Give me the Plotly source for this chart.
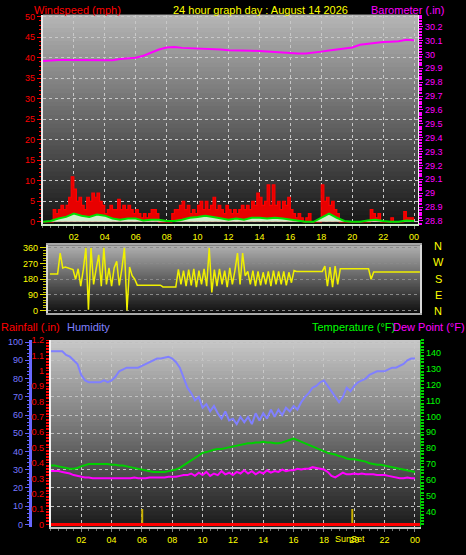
import plotly.graph_objects as go

W, H = 466, 555
def px(x): return x / W
def py(y): return 1 - y / H

FONT = "Arial, Liberation Sans, sans-serif"

# ---------------- data ----------------
# wind gust (mph), every 10 minutes from 00:00 to 24:00
gust = [0, 0, 0, 0, 3, 2,
        3, 4, 3, 4, 6, 11,
        8, 5, 6, 4, 3, 6,
        5, 7, 6, 7, 5, 4,
        2, 3, 4, 3, 3, 5.5,
        3, 4, 3, 4, 3, 2,
        3, 2, 1, 2, 1, 2,
        3, 3, 2, 0, 0, 0,
        0, 0, 2, 3, 3, 4,
        5, 3, 4, 2, 3, 2,
        4, 5, 3, 5, 3, 4,
        6, 3, 4, 3, 2, 4,
        3, 2, 3, 2, 3, 4,
        3, 4, 3, 5, 4, 7,
        6, 4, 5, 9, 4, 9,
        4, 5, 3, 5, 4, 6,
        3, 2, 1, 2, 1, 0,
        1, 2, 0, 0, 0, 0,
        9, 5, 6, 4, 5, 3,
        2, 0, 0, 0, 0, 0,
        0, 0, 0, 0, 0, 0,
        0, 3, 2, 1, 2, 0,
        0, 0, 0, 1, 0, 0,
        0, 0, 2.5, 1, 1, 1,
        1]
# average wind speed (mph), every 30 minutes
wind_avg = [0, 0.2, 0.8, 1.2, 2.0, 1.5, 1.2, 1.8, 1.5, 0.8,
            0.5, 0.8, 0.8, 0.3, 0.5, 0.5, 0.2, 0.2, 0.5, 1.0,
            1.2, 1.5, 1.2, 0.8, 0.5, 0.8, 0.5, 1.0, 1.0, 0.8,
            1.0, 0.8, 0.5, 0.2, 0, 0, 1.0, 2.0, 1.0, 0.2,
            0, 0, 0.3, 0.5, 0.2, 0, 0, 0.3, 0.2]
# barometer (inHg), every 30 minutes
baro = [29.952, 29.958, 29.96, 29.96, 29.96, 29.958, 29.955, 29.957, 29.96, 29.958,
        29.966, 29.97, 29.976, 29.99, 30.014, 30.035, 30.05, 30.054, 30.047, 30.045,
        30.043, 30.044, 30.043, 30.036, 30.03, 30.03, 30.028, 30.026, 30.024, 30.02,
        30.014, 30.01, 30.007, 30.006, 30.007, 30.012, 30.02, 30.028, 30.035, 30.042,
        30.05, 30.07, 30.078, 30.085, 30.09, 30.092, 30.095, 30.105, 30.102]
# wind direction (degrees), every 10 minutes
wdir = [210, 210, 210, 210, 330, 245,
        250, 245, 240, 235, 180, 240,
        140, 235, 360, 5, 360, 150,
        240, 320, 140, 360, 150, 245,
        140, 245, 283, 145, 240, 360,
        0, 250, 200, 180, 146, 146,
        146, 146, 146, 146, 146, 146,
        146, 146, 136, 136, 136, 136,
        136, 136, 236, 150, 230, 140,
        235, 145, 240, 135, 230, 150,
        240, 140, 360, 104, 235, 140,
        240, 150, 230, 135, 245, 150,
        230, 330, 150, 330, 200, 225,
        150, 230, 140, 225, 145, 220,
        150, 225, 140, 230, 150, 225,
        150, 225, 145, 220, 160, 230,
        225, 225, 225, 225, 225, 225,
        225, 225, 225, 225, 225, 255,
        140, 250, 135, 255, 150, 240,
        240, 240, 240, 240, 240, 240,
        240, 240, 240, 240, 240, 180,
        222, 222, 222, 222, 222, 222,
        222, 222, 222, 222, 222, 222,
        222, 222, 222, 222, 222, 222,
        222]
# humidity (%), every 15 minutes
humidity = [95, 95, 95, 95, 93, 92, 90, 88, 82, 79, 78, 78, 78, 78, 79, 78,
            79, 81, 84, 85, 86, 86, 86, 86, 87, 88, 89, 90, 91, 91, 91.5, 92,
            91, 89, 86, 81, 75, 72, 68, 70, 64, 66, 62, 65, 61, 58, 62, 57,
            58, 55, 59, 56, 59, 55, 61, 57, 61, 58, 63, 59, 63, 60, 64, 62,
            65, 63, 67, 70, 72, 75, 76, 78, 79, 76, 73, 70, 67, 70, 75, 73,
            76, 78, 79, 80, 82, 83, 84, 84, 84, 85, 86, 86, 87, 88, 90, 91,
            91]
# temperature (F), every 15 minutes
temperature = [69, 69, 68.5, 68, 67.5, 67, 67, 67.5, 68.5, 69.5, 70, 70, 70, 70, 70, 70,
               69.5, 69.5, 69, 69, 68.5, 68, 67.5, 67, 66.5, 66, 65.5, 65, 65, 65, 65, 65.5,
               66, 66.5, 67.5, 69, 71, 72.5, 74, 75.5, 77, 77.5, 78.5, 79, 79.5, 79.5, 80, 80.5,
               81, 81.5, 82, 82.5, 83, 83, 83.5, 83.5, 84, 83.5, 83.5, 83, 83, 83.5, 84.5, 85.5,
               86, 85, 84, 83, 82, 81, 80, 79, 78, 77, 76.5, 76, 75, 74.5, 73.5, 73,
               73, 72.5, 72, 71.5, 70.5, 70, 69.5, 69.5, 69, 68.5, 68, 67.5, 67, 66.5, 66, 65.5,
               65]
# dew point (F), every 15 minutes
dewpoint = [65.5, 65.5, 65.5, 65, 64.5, 64, 63, 62.5, 62, 61.5, 61.5, 61, 61, 61, 61, 61,
            61, 61, 61, 61, 61, 61, 61.5, 61, 61, 61, 61.5, 61.5, 61.5, 61.5, 61.5, 62,
            62, 62, 62.5, 63, 63, 64, 62.5, 64.5, 63, 65, 62.5, 64, 63, 65.5, 63.5, 64.5,
            63, 65, 64, 66, 64, 65.5, 63.5, 65, 64, 66, 64.5, 65.5, 65, 66.5, 65.5, 66,
            66, 67, 66.5, 67, 67, 68, 67.5, 67, 66.5, 65, 62.5, 61.5, 63, 64.5, 63.5, 63.5,
            64, 63.5, 64, 63.5, 63.5, 63.5, 63, 63, 63, 62.5, 62, 61.5, 61, 61, 61.5, 61,
            61]
rain_total = [0, 0]
rain_hours = [0, 24.34]
sunrise_h = 6.02
sunset_h = 19.87

t10 = [i / 6 for i in range(len(gust))]
t30 = [i / 2 for i in range(len(baro))]
t15 = [i / 4 for i in range(len(humidity))]

hour_ticks = list(range(2, 25, 2))
hour_text = ["%02d" % (h % 24) for h in hour_ticks]

# ---------------- figure ----------------
fig = go.Figure()

# panel 1: wind and barometer
fig.add_trace(go.Scatter(x=t10, y=gust, mode="lines", line=dict(color="#ff0000", width=1.2, shape="hv"),
                         fill="tozeroy", fillcolor="#e80000", xaxis="x", yaxis="y"))
fig.add_trace(go.Scatter(x=t30, y=wind_avg, mode="lines", line=dict(color="#00e000", width=2),
                         fill="tozeroy", fillcolor="#cfeecb", xaxis="x", yaxis="y"))
fig.add_trace(go.Scatter(x=t30, y=baro, mode="lines", line=dict(color="#ff00ff", width=2),
                         xaxis="x", yaxis="y2"))

# panel 2: wind direction
fig.add_trace(go.Scatter(x=t10, y=wdir, mode="lines", line=dict(color="#f0f000", width=1.5),
                         xaxis="x2", yaxis="y3"))

# panel 3: rain, humidity, temperature, dew point
fig.add_trace(go.Scatter(x=[sunrise_h, sunrise_h], y=[0, 0.1], mode="lines",
                         line=dict(color="#c8b000", width=2), xaxis="x3", yaxis="y4"))
fig.add_trace(go.Scatter(x=[sunset_h, sunset_h], y=[0, 0.1], mode="lines",
                         line=dict(color="#c8b000", width=2), xaxis="x3", yaxis="y4"))
fig.add_trace(go.Scatter(x=rain_hours, y=rain_total, mode="lines",
                         line=dict(color="#ff0000", width=3), xaxis="x3", yaxis="y4"))
fig.add_trace(go.Scatter(x=t15, y=humidity, mode="lines", line=dict(color="#8080ff", width=2),
                         xaxis="x3", yaxis="y5"))
fig.add_trace(go.Scatter(x=t15, y=temperature, mode="lines", line=dict(color="#00d000", width=2),
                         xaxis="x3", yaxis="y6"))
fig.add_trace(go.Scatter(x=t15, y=dewpoint, mode="lines", line=dict(color="#ff00ff", width=2),
                         xaxis="x3", yaxis="y6"))

# gradient backgrounds (overlapping bands to avoid seams)
shapes = []
def gradient(xref, yref, top, bot, n=48):
    for i in range(n):
        f = (i + 0.5) / n
        c = int(round(bot + (top - bot) * f))
        shapes.append(dict(type="rect", xref=xref, yref=yref, x0=0, x1=1,
                           y0=i / n, y1=min(1.0, (i + 2) / n), fillcolor="rgb(%d,%d,%d)" % (c, c, c),
                           line=dict(width=0), layer="below"))
gradient("x domain", "y domain", 182, 22)
gradient("x2 domain", "y3 domain", 176, 16)
gradient("x3 domain", "y4 domain", 200, 26)

tf = lambda c: dict(family=FONT, size=9, color=c)
grid = dict(showgrid=True, gridcolor="#c8c8c8", griddash="dot", gridwidth=1)

xcommon = dict(tickmode="array", tickvals=hour_ticks, ticktext=hour_text, tickfont=tf("#ffff00"),
               ticks="outside", ticklen=3, tickcolor="#808080", zeroline=False,
               minor=dict(ticks="outside", ticklen=2, tickcolor="#707070", dtick=0.5, tick0=0, showgrid=False))

annotations = []
def txt(s, x, y, color, size=11, anchor="left"):
    annotations.append(dict(text=s, x=px(x), y=py(y), xref="paper", yref="paper", showarrow=False,
                            xanchor=anchor, yanchor="middle", borderpad=0,
                            font=dict(family=FONT, size=size, color=color)))

txt("Windspeed (mph)", 33, 5, "#ff0000")
txt("24 hour graph day : August 14 2026", 172, 5, "#ffff00")
txt("Barometer (.in)", 371, 5, "#ff00ff")
txt("Rainfall (.in)", 0, 327, "#ff0000")
txt("Humidity", 66, 327, "#8080ff")
txt("Temperature (°F)", 312, 327, "#00ff00")
txt("Dew Point (°F)", 393, 327, "#ff00ff")
for lab, yy in zip(["N", "W", "S", "E", "N"], [245, 261, 278, 294, 310]):
    txt(lab, 439, yy, "#ffff00", size=11, anchor="center")
txt("SunSet", 351, 542, "#ffff00", size=9, anchor="center")

fig.update_layout(
    width=W, height=H, margin=dict(l=0, r=0, t=0, b=0, pad=0),
    paper_bgcolor="#000000", plot_bgcolor="#000000", showlegend=False,
    shapes=shapes, annotations=annotations,
    xaxis=dict(domain=[px(43), px(419)], range=[0, 24.26], anchor="y",
               showline=True, linecolor="#d0ecc8", linewidth=2, **grid, **xcommon),
    yaxis=dict(domain=[py(222), py(10)], range=[-0.48, 50.48], anchor="x",
               tickmode="linear", tick0=0, dtick=5, tickfont=tf("#ff0000"),
               ticks="outside", ticklen=4, tickcolor="#ff0000", zeroline=False,
               showline=True, linecolor="#e8e8e8", linewidth=2, **grid,
               minor=dict(ticks="outside", ticklen=2, tickcolor="#ff0000", dtick=1, tick0=0, showgrid=False)),
    yaxis2=dict(overlaying="y", side="right", anchor="x", range=[28.779, 30.285],
                tickmode="linear", tick0=28.8, dtick=0.1, tickfont=tf("#ff00ff"),
                ticks="outside", ticklen=4, tickcolor="#ff00ff", showgrid=False, zeroline=False,
                showline=True, linecolor="#f0f0f0", linewidth=1,
                minor=dict(ticks="outside", ticklen=3, tickwidth=2, tickcolor="#ff00ff", dtick=0.02, tick0=28.8)),
    xaxis2=dict(domain=[px(48), px(421)], range=[-0.13, 24.01], anchor="y3",
                showticklabels=False, showgrid=False, zeroline=False,
                showline=True, linecolor="#a8a8a8", linewidth=2, mirror=True, ticks=""),
    yaxis3=dict(domain=[py(312), py(244)], range=[-11.3, 374], anchor="x2",
                tickmode="array", tickvals=[0, 90, 180, 270, 360], tickfont=tf("#ffff00"),
                ticks="outside", ticklen=6, tickcolor="#e0e000", zeroline=False,
                showline=True, linecolor="#d8d8d8", linewidth=2, mirror=True,
                showgrid=True, gridcolor="#8a8a8a", griddash="dot",
                minor=dict(ticks="outside", ticklen=3, tickcolor="#c0c000", dtick=15, tick0=0, showgrid=False)),
    xaxis3=dict(domain=[px(51), px(421)], range=[0, 24.34], anchor="y4",
                showline=True, linecolor="#c8c8c8", linewidth=2, **grid, **xcommon),
    yaxis4=dict(domain=[py(530), py(340)], range=[-0.019, 1.2], anchor="x3", side="left",
                tickmode="linear", tick0=0, dtick=0.1, tickfont=tf("#ff0000"),
                ticks="outside", ticklen=3, tickcolor="#ff0000", showgrid=False, zeroline=False,
                showline=True, linecolor="#f0f0f0", linewidth=2,
                minor=dict(ticks="outside", ticklen=3, tickwidth=2, tickcolor="#ff0000", dtick=0.02, tick0=0)),
    yaxis5=dict(overlaying="y4", anchor="free", position=px(30), side="left", range=[-1.6, 101.1],
                tickmode="linear", tick0=0, dtick=10, tickfont=tf("#7878ff"),
                ticks="outside", ticklen=4, tickcolor="#6060ff", zeroline=False,
                showline=True, linecolor="#6868ff", linewidth=3,
                showgrid=True, gridcolor="#c0c0c0", griddash="dot",
                minor=dict(ticks="outside", ticklen=2, tickcolor="#6060ff", dtick=2, tick0=0, showgrid=False)),
    yaxis6=dict(overlaying="y4", side="right", anchor="x3", range=[30.06, 148.07],
                tickmode="linear", tick0=40, dtick=10, tickfont=tf("#00ff00"),
                ticks="outside", ticklen=3, tickcolor="#00e000", showgrid=False, zeroline=False,
                showline=True, linecolor="#00c000", linewidth=1,
                minor=dict(ticks="outside", ticklen=3, tickwidth=2, tickcolor="#00d000", dtick=2, tick0=40)),
)

fig.write_html("out.html", config={"displayModeBar": False},
               post_script="document.body.style.margin='0';document.body.style.padding='0';"
                           "document.body.style.overflow='hidden';document.body.style.background='#000';")
